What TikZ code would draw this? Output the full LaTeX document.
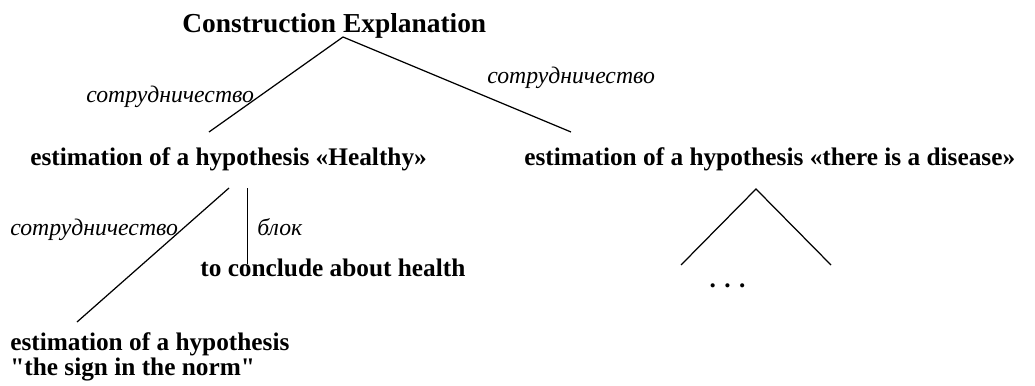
\documentclass[tikz,border=0pt]{standalone}
\usepackage{fontspec}
\setmainfont{Liberation Serif}[Ligatures=TeXOff]
\usetikzlibrary{positioning}
\tikzset{
  figtitle/.style={font=\fontsize{15.6}{18}\selectfont\bfseries, inner sep=0pt},
  hypo/.style={font=\fontsize{14.4}{14.2}\selectfont\bfseries, inner sep=0pt,
               align=left},
  rel/.style={font=\fontsize{13.5}{14}\selectfont\itshape, inner sep=0pt},
  link/.style={line width=0.7pt, black},
}

\begin{document}
\begin{tikzpicture}
  \useasboundingbox (0,0) rectangle (20.7,7.7);

  % tree nodes
  \node[figtitle, anchor=base west] (expl) at (3.64,7.06) {Construction Explanation};
  \node[hypo, anchor=base west] (healthy) at (0.6,4.4)
        {estimation of a hypothesis «Healthy»};
  \node[hypo, anchor=base west] (disease) at (10.48,4.4)
        {estimation of a hypothesis «there is a disease»};
  \node[hypo, anchor=base west] (concl) at (4.0,2.18) {to conclude about health};
  \node[hypo, anchor=north west] (norm) at (0.2,1.05)
        {estimation of a hypothesis\\"the sign in the norm"};
  \node[hypo, anchor=base] (more) at (14.55,1.96) {. . .};

  % connector ends
  \coordinate (e0) at (6.86,6.96);
  \coordinate (e1) at (4.18,5.06);
  \coordinate (e2) at (11.42,5.06);
  \coordinate (h0) at (4.58,3.94);
  \coordinate (h1) at (1.54,1.26);
  \coordinate (b0) at (4.95,3.94);
  \coordinate (b1) at (4.95,2.42);
  \coordinate (d0) at (15.12,3.92);
  \coordinate (d1) at (13.62,2.4);
  \coordinate (d2) at (16.62,2.4);

  \draw[link] (e1) -- (e0) -- (e2);
  \draw[link] (h0) -- (h1);
  \draw[link] (b0) -- (b1);
  \draw[link] (d1) -- (d0) -- (d2);

  % relation labels
  \node[rel, anchor=base west] (r1) at (1.72,5.66) {сотрудничество};
  \node[rel, anchor=base west] (r2) at (9.74,6.04) {сотрудничество};
  \node[rel, anchor=base west] (r3) at (0.2,3.0) {сотрудничество};
  \node[rel, anchor=base west] (r4) at (5.14,3.0) {блок};

\end{tikzpicture}
\end{document}
